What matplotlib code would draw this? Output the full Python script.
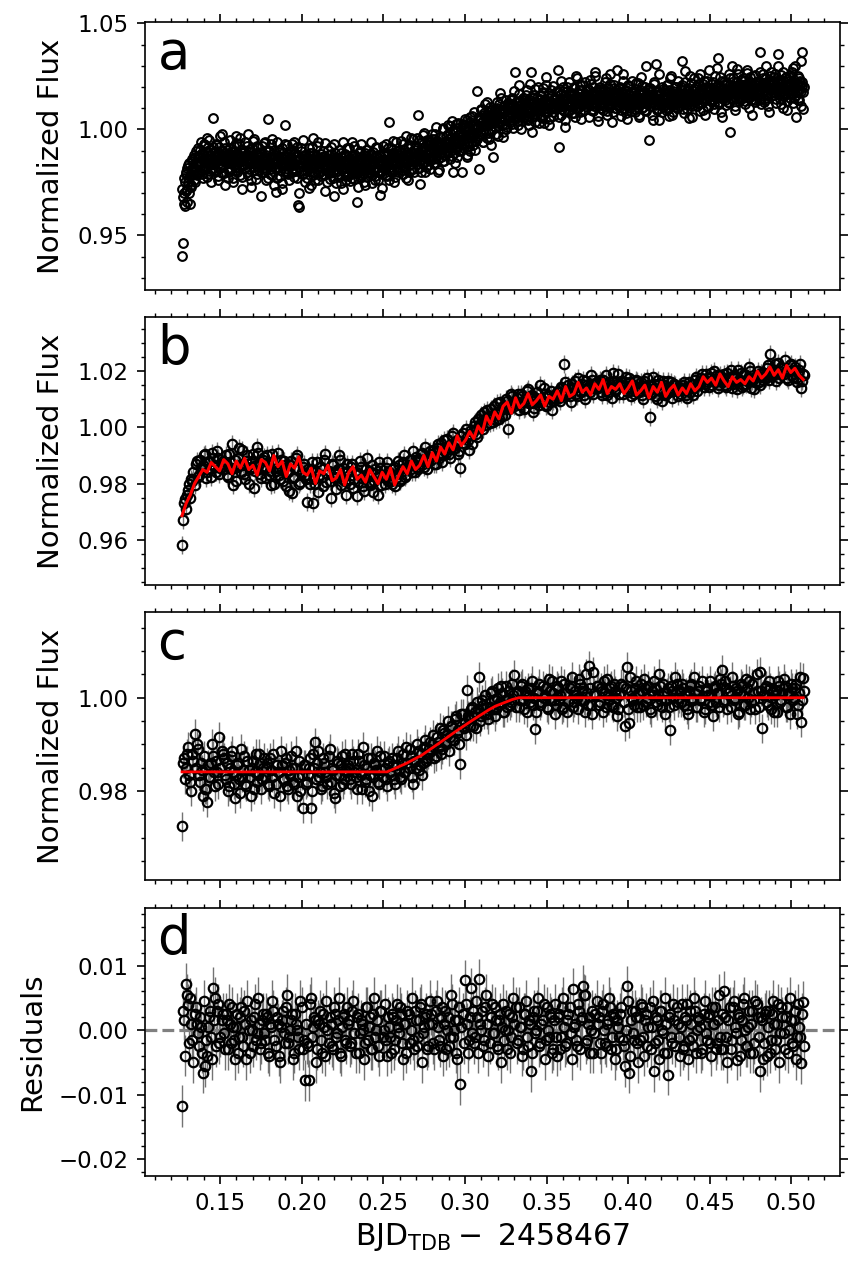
import numpy as np
import matplotlib
matplotlib.use('Agg')
import matplotlib.pyplot as plt
from matplotlib.ticker import MultipleLocator

# time range of the light curve (BJD_TDB - 2458467)
T_START = 0.1268
T_END = 0.5072

# all flux values below are (flux - 1) in units of 1e-4
# odd / even lists are interleaved exposures, half a cadence apart
# a: raw light curve
raw_a_odd = [
    -597, -535, -353, -300, -250, -200, -340, -280, -170, -230, -350, -190, -260, -150, -210, -120, -180, -250, -100, -160,
    -130, -90, -200, -160, -60, -170, -110, -230, -140, -75, -185, -150, -40, -210, -120, -165, -95, -250, -135, -180,
    56, -150, -100, -190, -70, -130, -220, -160, -85, -30, -175, -120, -205, -145, -60, -260, -110, -150, -95, -180,
    -125, -200, -50, -160, -100, -230, -140, -80, -175, -30, -190, -120, -155, -70, -215, -135, -95, -280, -150, -110,
    -170, -60, -120, -200, -140, -20, -185, -105, -155, -240, -90, -130, -175, -45, -160, -115, -210, -80, -145, -190,
    -110, -170, -312, -80, -150, -200, -125, -60, -190, -140, -230, 47, -100, -165, -130, -70, -215, -155, -95, -180,
    -135, -293, -60, -180, -150, -105, -220, -170, -90, -280, -140, -125, 19, -195, -160, -75, -210, -115, -170, -140,
    -130, -185, -70, -160, -225, -110, -150, -195, -85, -358, -367, -140, -175, -100, -210, -160, -50, -190, -135, -170,
    -120, -230, -165, -90, -195, -145, -260, -110, -175, -40, -205, -150, -125, -185, -80, -240, -160, -135, -200, -115,
    -175, -100, -215, -150, -65, -190, -135, -250, -170, -120, -205, -85, -180, -155, -230, -316, -140, -110, -195, -160,
    -145, -210, -95, -175, -255, -130, -185, -60, -200, -160, -115, -240, -170, -140, -220, -90, -190, -165, -125, -230,
    -150, -80, -205, -175, -130, -344, -190, -110, -160, -225, -70, -185, -145, -205, -120, -260, -165, -95, -180, -140,
    -200, -120, -165, -60, -215, -150, -105, -185, -240, -130, -175, -90, -195, -155, -307, -125, -170, -210, -80, -160,
    -140, -185, -70, -160, -220, -115, 33, -175, -135, -90, -200, -150, -250, -110, -165, -60, -190, -130, -175, -100,
    -120, -170, -55, -150, -210, -95, -140, -180, -30, -160, -115, -240, -130, -75, -185, -105, -150, -45, -200, -125,
    -90, -150, -40, 70, -125, -180, -256, -100, -60, -160, -115, -15, -200, -85, -135, -50, -170, -110, -75, -145,
    -60, -130, -20, -95, -165, -45, -110, 10, -80, -140, -65, -190, -35, -105, -70, -150, 0, -90, -120, -55,
    -30, -100, 20, -60, -140, -15, -75, 40, -55, -200, -110, -5, -85, -40, -130, 30, -65, -20, -95, -50,
    -200, 25, -45, -90, 10, -25, -130, 45, -60, -5, -100, 60, -35, 15, -75, -20, 80, -55, 5, -40,
    181, 10, -189, 55, -20, 90, 35, -60, 70, 0, 120, 25, -40, 80, 45, -15, 105, 30, -75, 60,
    -130, 40, 95, 10, 70, 130, 30, -30, 85, 55, 150, 20, 75, -10, 110, 45, 90, 0, 65, 125,
    60, 120, 35, 100, 150, 70, 5, 90, 271, 55, 130, 80, 20, 110, 165, 65, 95, 40, 140, 85,
    75, 130, 50, 115, 185, 90, 20, 140, 100, 270, 60, 125, 160, 85, 35, 110, 150, 70, 200, 95,
    90, 145, 60, 120, 175, 100, 30, 135, 210, 80, 115, 160, 50, 130, 95, 185, 110, 65, 140, 105,
    150, 95, 180, 110, 279, -82, 135, 70, 165, 120, 200, 85, 140, 45, 175, 115, 150, 90, 225, 130,
    110, 170, 75, 145, 200, 120, 60, 155, 240, 100, 135, 185, 80, 150, 115, 210, 130, 90, 165, 140,
    165, 105, 190, 130, 60, 150, 215, 120, 175, 85, 145, 250, 110, 160, 135, 40, 180, 125, 200, 145,
    120, 175, 90, 150, 225, 135, 70, 160, 195, 105, 140, 260, 115, 170, 80, 150, 210, 130, 100, 185,
    155, 110, 195, 140, 65, 170, 125, 230, 150, 95, 180, 135, 50, 160, 205, 120, 145, 85, 175, 130,
    115, 170, 140, 80, 190, 125, 220, 150, 60, 165, 130, 205, 100, 145, 175, 90, 155, 298, 120, 185,
    140, -51, 110, 180, 130, 70, 160, 215, 120, 307, 150, 95, 175, 135, 45, 165, 120, 200, 105, 150,
    125, 185, 90, 150, 210, 130, 65, 160, 240, 115, 145, 180, 80, 155, 125, 200, 140, 100, 170, 130,
    160, 110, 200, 322, 140, 75, 170, 225, 130, 155, 95, 185, 145, 250, 120, 165, 60, 150, 190, 135,
    145, 200, 110, 175, 240, 150, 85, 185, 160, 125, 215, 170, 70, 190, 140, 230, 155, 105, 180, 165,
    195, 130, 215, 160, 95, 185, 250, 150, 175, 336, 120, 200, 165, 80, 190, 230, 145, 210, 170, 115,
    165, 220, 130, 190, 260, -14, 175, 205, 145, 240, 180, 110, 200, 160, 285, 170, 135, 215, 190, 150,
    210, 150, 240, 180, 120, 200, 265, 165, 195, 100, 225, 175, 140, 205, 250, 160, 190, 130, 220, 185,
    170, 230, 145, 364, 200, 120, 215, 260, 180, 195, 140, 240, 165, 205, 110, 225, 185, 270, 155, 200,
    215, 160, 245, 190, 125, 230, 180, 353, 205, 145, 255, 175, 220, 100, 195, 240, 165, 210, 135, 230,
    180, 245, 150, 210, 270, 170, 125, 225, 195, 300, 160, 215, 140, 240, 185, 230, 110, 364, 205, 175,
]

raw_a_even = [
    -280, -320, -230, -360, -210, -290, -180, -250, -300, -160, -220, -270, -140, -200, -175, -240, -130, -190, -155, -215,
    -170, -125, -95, -190, -155, -210, -115, -145, -70, -175, -135, -225, -100, -160, -50, -140, -195, -120, -165, -85,
    -110, -165, -195, -130, -75, -150, -240, -120, -180, -100, -145, -20, -170, -125, -205, -90, -155, -135, -230, -115,
    -160, -90, -145, -185, -120, -250, -105, -170, -135, -65, -200, -150, -115, -180, -40, -130, -165, -225, -95, -145,
    -125, -180, -150, -80, -215, -135, -100, -165, -270, -120, -145, -55, -190, -160, -110, -235, -140, -85, -175, -130,
    -160, -105, -200, -135, -180, -65, -150, -240, -120, -170, -95, -155, -210, -130, -185, -45, -140, -115, -260, -165,
    -175, -120, -230, -145, -95, -190, -160, -135, -255, -110, -170, -140, -70, -205, -150, -125, -185, -240, -100, -160,
    -140, -200, -115, -170, -60, -185, -150, -230, -125, -165, -300, -135, -195, -90, -160, -210, -145, -120, -250, -175,
    -195, -135, -150, -275, -110, -180, -165, -85, -215, -140, -170, -240, -125, -155, -200, -60, -175, -145, -220, -130,
    -150, -210, -125, -180, -290, -140, -175, -95, -195, -160, -235, -115, -170, -145, -200, -70, -185, -130, -255, -165,
    -195, -140, -225, -160, -110, -185, -280, -150, -175, -200, -125, -165, -90, -210, -155, -245, -135, -180, -60, -190,
    -160, -235, -120, -185, -205, -145, -270, -175, -100, -195, -155, -215, -135, -180, -250, -110, -170, -225, -145, -190,
    -140, -205, -175, -115, -255, -160, -190, -130, -220, -85, -180, -150, -240, -165, -120, -200, -145, -275, -170, -110,
    -180, -125, -215, -150, -90, -170, -240, -140, -195, -110, -165, -55, -185, -130, -225, -150, -100, -200, -160, -135,
    -160, -105, -190, -130, -70, -175, -145, -230, -115, -155, -90, -200, -125, -165, -40, -140, -185, -110, -150, -95,
    -135, -80, -165, -105, -50, -145, -120, -200, -90, -130, -25, -155, -100, -175, -70, -115, -140, -60, -185, -95,
    -105, -45, -140, -75, -160, -20, -95, -120, -55, -200, -85, -35, -130, -70, -110, 5, -90, -150, -60, -100,
    -70, -20, -110, -45, 15, -85, -35, -125, -5, -60, -160, -40, 25, -90, -25, -55, -100, 10, -75, -30,
    -35, 20, -65, -5, 50, -40, -120, 10, -20, -80, 35, -10, -55, 65, -30, 5, -95, 25, -15, -45,
    5, 60, -30, 45, 95, 15, -60, 40, 75, 20, -15, 55, 130, 25, -45, 70, 35, 0, 90, 50,
    30, 85, 45, -20, 100, 65, 15, 120, 55, 170, 40, 80, -35, 95, 60, 25, 140, 70, 10, 105,
    110, 55, 140, 80, 25, 120, 95, 180, 65, 100, 40, 135, 85, 210, 70, 115, 0, 90, 150, 60,
    125, 70, 160, 95, 45, 135, 105, 215, 80, 120, -10, 150, 100, 65, 190, 115, 85, 140, 30, 110,
    90, 160, 130, 55, 195, 110, 140, 75, 245, 120, 95, 170, 20, 135, 105, 155, 80, 205, 125, 100,
    145, 100, 175, 120, 60, 160, 130, 230, 95, 140, 180, 110, 10, 150, 125, 200, 85, 135, 165, 115,
    110, 160, 140, 75, 195, 125, 250, 150, 95, 170, 135, 210, 50, 145, 185, 120, 160, 90, 225, 130,
    155, 120, 185, 135, 235, 90, 165, 145, 200, 110, 150, 270, 125, 175, 65, 140, 190, 115, 160, 100,
    130, 190, 110, 165, 140, 240, 85, 155, 175, 120, 215, 145, 35, 160, 130, 195, 100, 170, 150, 280,
    165, 115, 145, 200, 90, 175, 135, 260, 120, 155, 185, 75, 150, 210, 125, 165, 100, 140, 230, 130,
    120, 175, 95, 160, 220, 135, 150, 70, 185, 125, 245, 145, 105, 170, 130, 200, 85, 155, 140, 190,
    150, 110, 195, 130, 165, 45, 140, 225, 115, 160, 180, 90, 145, 260, 120, 170, 135, 80, 190, 125,
    115, 165, 140, 210, 95, 155, 185, 125, 250, 140, 70, 170, 150, 200, 120, 160, 105, 230, 145, 130,
    170, 125, 210, 150, 95, 185, 140, 275, 160, 120, 195, 55, 165, 135, 220, 150, 110, 180, 240, 145,
    135, 190, 155, 215, 120, 175, 260, 145, 185, 90, 170, 230, 150, 200, 165, 110, 195, 280, 140, 180,
    190, 145, 225, 165, 120, 200, 175, 290, 155, 210, 130, 185, 245, 160, 60, 195, 170, 225, 140, 180,
    160, 215, 185, 125, 240, 195, 170, 300, 150, 205, 180, 90, 225, 165, 195, 260, 145, 210, 175, 235,
    205, 160, 230, 190, 135, 215, 280, 175, 200, 150, 245, 185, 70, 220, 165, 195, 255, 140, 210, 180,
    165, 220, 190, 270, 145, 205, 175, 240, 130, 210, 185, 300, 160, 225, 80, 195, 250, 170, 215, 190,
    225, 175, 260, 145, 210, 190, 300, 165, 235, 200, 120, 220, 180, 270, 155, 205, 245, 185, 90, 215,
    200, 255, 165, 220, 185, 290, 150, 235, 195, 60, 215, 175, 250, 140, 210, 320, 180, 225, 95, 200,
]

# b: binned light curve
raw_b_odd = [
    -419, -270, -290, -223, -250, -190, -205, -120, -170, -150, -135, -95, -160, -120, -175, -110, -140, -85, -165, -130,
    -150, -100, -175, -125, -60, -145, -190, -110, -135, -80, -165, -120, -200, -140, -95, -155, -70, -130, -180, -115,
    -145, -100, -170, -205, -130, -155, -90, -185, -150, -120, -210, -160, -135, -235, -175, -110, -150, -195, -140, -170,
    -265, -180, -150, -270, -200, -125, -170, -140, -210, -95, -165, -190, -130, -175, -220, -150, -115, -185, -160, -240,
    -155, -200, -130, -185, -245, -165, -140, -210, -180, -110, -195, -160, -230, -150, -175, -125, -205, -170, -145, -190,
    -165, -200, -140, -180, -120, -190, -155, -100, -170, -135, -150, -85, -160, -120, -140, -95, -130, -70, -150, -105,
    -115, -80, -130, -60, -100, -125, -45, -90, -70, -110, -30, -75, -55, -95, -143, -20, -60, -35, -80, -10,
    -15, 20, -35, 10, 45, -5, 30, 60, 15, 40, 75, 25, 55, 90, 40, 70, 100, -7, 80, 110,
    75, 105, 60, 120, 90, 70, 130, 85, 110, 55, 95, 125, 80, 100, 140, 75, 115, 90, 60, 105,
    100, 130, 95, 140, 227, 115, 150, 90, 135, 165, 110, 145, 125, 170, 100, 150, 135, 185, 120, 155,
    140, 170, 115, 155, 185, 125, 145, 105, 165, 135, 190, 150, 120, 160, 140, 175, 110, 150, 130, 165,
    125, 160, 100, 145, 175, 38, 135, 155, 110, 170, 130, 95, 150, 120, 165, 140, 105, 155, 130, 145,
    120, 150, 135, 105, 160, 140, 115, 170, 130, 155, 175, 145, 190, 160, 180, 150, 200, 165, 140, 185,
    160, 190, 145, 175, 205, 155, 180, 135, 170, 195, 150, 185, 165, 215, 140, 175, 160, 200, 150, 180,
    195, 175, 220, 262, 185, 205, 165, 230, 190, 210, 238, 175, 200, 225, 180, 215, 160, 205, 140, 190,
]

raw_b_even = [
    -330, -255, -240, -200, -185, -160, -130, -175, -115, -145, -100, -180, -125, -150, -90, -135, -160, -110, -145, -120,
    -125, -170, -95, -150, -205, -115, -140, -75, -160, -130, -185, -100, -150, -120, -215, -135, -90, -165, -140, -105,
    -180, -125, -155, -95, -200, -145, -170, -115, -190, -135, -160, -225, -120, -180, -145, -100, -200, -160, -130, -185,
    -150, -200, -125, -185, -160, -230, -140, -175, -115, -195, -155, -250, -135, -180, -165, -100, -205, -145, -190, -130,
    -185, -140, -215, -160, -195, -120, -180, -225, -150, -170, -205, -135, -190, -165, -240, -145, -175, -200, -125, -160,
    -190, -150, -210, -165, -135, -185, -125, -175, -145, -115, -160, -130, -105, -150, -115, -90, -140, -110, -125, -85,
    -95, -130, -75, -110, -55, -100, -80, -40, -95, -60, -20, -75, -45, -85, -30, -55, -5, -45, -25, -60,
    5, -25, 30, 0, 25, 55, 10, 35, 65, 20, 50, 85, 30, 60, 75, 45, 95, 65, 120, 85,
    95, 120, 80, 110, 65, 100, 135, 85, 115, 70, 105, 90, 150, 95, 120, 80, 110, 130, 95, 115,
    125, 105, 145, 120, 160, 130, 110, 155, 140, 120, 175, 130, 155, 115, 165, 145, 125, 170, 140, 160,
    155, 125, 170, 140, 115, 160, 150, 195, 130, 155, 120, 165, 145, 180, 125, 160, 140, 120, 170, 145,
    140, 115, 165, 130, 150, 120, 180, 140, 100, 155, 135, 165, 115, 145, 125, 160, 130, 150, 110, 140,
    135, 160, 115, 145, 125, 155, 140, 180, 150, 165, 190, 155, 175, 145, 195, 170, 160, 185, 150, 175,
    175, 150, 195, 165, 140, 185, 160, 205, 170, 145, 190, 155, 175, 200, 165, 135, 185, 160, 195, 170,
    180, 210, 170, 200, 185, 225, 195, 175, 215, 190, 200, 170, 220, 185, 205, 175, 195, 225, 165, 185,
]

# b: systematics + GP model (red)
model_b = [
    -314, -270, -240, -200, -175, -150, -160, -125, -140, -155, -115, -130, -165, -120, -145,
    -110, -150, -135, -170, -115, -125, -155, -100, -140, -120, -175, -130, -145, -105, -160,
    -170, -145, -200, -155, -165, -135, -190, -180, -150, -205, -160, -140, -185, -170, -195,
    -150, -175, -200, -160, -185, -145, -205, -170, -140, -165, -120, -150, -135, -100, -140,
    -90, -120, -70, -95, -55, -80, -30, -65, -45, -15, -40, 5, -20, 40, 10,
    55, 30, 75, 90, 50, 105, 70, 85, 120, 80, 95, 115, 75, 110, 100,
    130, 95, 145, 110, 120, 160, 125, 140, 115, 155, 135, 170, 120, 145, 135,
    155, 120, 140, 165, 115, 130, 150, 105, 145, 125, 160, 110, 135, 150, 115,
    140, 120, 155, 130, 145, 180, 160, 175, 150, 190, 165, 145, 180, 160, 170,
    155, 180, 165, 200, 175, 190, 215, 185, 205, 175, 220, 195, 210, 185, 170,
]

# c: detrended light curve
raw_c_odd = [
    -276, -130, -150, -105, -180, -120, -77, -100, -165, -140, -210, -195, -223, -170, -140, -125, -190, -160, -85, -115,
    -130, -175, -200, -150, -115, -185, -165, -140, -205, -170, -125, -190, -155, -210, -135, -160, -180, -120, -195, -150,
    -170, -140, -190, -155, -120, -185, -160, -210, -145, -175, -130, -195, -165, -150, -185, -115, -170, -200, -236, -145,
    -180, -150, -236, -120, -96, -140, -170, -195, -130, -160, -185, -110, -150, -205, -165, -140, -190, -125, -175, -155,
    -145, -175, -120, -160, -195, -135, -165, -105, -180, -150, -200, -130, -170, -145, -115, -185, -155, -125, -175, -140,
    -160, -130, -175, -145, -115, -170, -140, -160, -105, -150, -125, -185, -135, -100, -155, -120, -140, -90, -130, -110,
    -115, -80, -125, -95, -65, -110, -75, -100, -50, -85, -60, -90, -40, -70, -142, -35, -55, 17, -45, -25,
    -60, -30, -10, 45, -40, -15, 5, -35, -20, 15, -5, -25, 20, -10, 10, -30, 25, 0, -15, 30,
    49, 10, -20, 25, -5, 15, -30, 5, 20, -15, -68, 10, 30, -10, 0, 20, -25, 15, 35, -5,
    -15, 20, 5, -25, 30, 10, -10, 25, -20, 15, 0, 40, -5, 20, -30, 10, 68, -15, 55, 5,
    25, -10, 15, 35, -20, 5, 20, -15, 30, 0, -25, 10, 25, -60, 66, -55, 15, -5, 20, -20,
    10, 30, -15, 20, 0, -25, 15, 35, -10, 5, 25, -20, 10, -5, 20, -70, 15, -15, 30, 0,
    -10, 20, 5, -25, 15, 30, -5, 10, -20, 25, 0, -30, 15, 5, 35, -15, 20, -10, 10, 40,
    60, -5, 20, 10, -20, 25, 0, 15, -30, 30, 5, -15, 20, 35, -10, 10, -25, 15, 55, -66,
    5, 25, -15, 20, 0, -30, 15, 35, -10, 10, 25, -20, 5, 30, -5, 20, -35, 10, -53, 43,
]

raw_c_even = [
    -140, -175, -120, -165, -200, -135, -150, -110, -180, -155, -125, -195, -145, -170, -100, -160, -135, -185, -150, -120,
    -165, -140, -190, -125, -160, -215, -145, -175, -110, -155, -185, -135, -170, -150, -195, -120, -165, -140, -175, -130,
    -150, -185, -130, -170, -205, -145, -160, -115, -175, -140, -190, -155, -125, -180, -150, -210, -135, -165, -145, -185,
    -165, -130, -200, -150, -175, -115, -160, -190, -140, -170, -125, -180, -155, -215, -135, -165, -145, -185, -120, -160,
    -150, -185, -135, -170, -120, -160, -195, -145, -175, -130, -165, -210, -140, -155, -180, -125, -170, -150, -190, -135,
    -165, -145, -185, -130, -155, -175, -120, -160, -140, -110, -170, -135, -150, -115, -145, -165, -105, -135, -120, -95,
    -100, -130, -85, -105, -120, -70, -95, -80, -115, -60, -90, -45, -75, -100, -35, -65, -80, -40, -60, -20,
    -40, -65, -25, -50, -5, -35, -20, -45, 10, -25, -40, 0, -15, 25, -30, -5, -20, 15, -10, 5,
    -20, 15, -5, 30, -25, 5, 20, -10, 35, 0, -30, 15, -15, 25, 5, -20, 40, -5, 10, -35,
    25, -5, 35, -20, 10, -30, 20, 45, -10, 5, -25, 30, 15, -5, 50, -15, 20, -35, 10, 25,
    -15, 20, -30, 10, 40, -5, 25, -20, 15, -40, 5, 30, -10, 20, -25, 45, 0, -15, 35, 10,
    -20, 15, 40, -10, 25, -30, 5, 20, -15, 50, -5, 30, -35, 10, -20, 25, 0, 45, -10, 15,
    30, -15, 10, -35, 25, 0, 45, -20, 15, -5, 35, -25, 20, -10, 5, -40, 25, 10, -20, 30,
    -10, 35, -25, 15, 45, -5, 20, -35, 10, 25, -15, 40, 0, -25, 30, -5, 50, -20, 15, 5,
    20, -10, 35, -25, 15, 5, -30, 25, -5, 40, -20, 10, -35, 20, 0, 30, -15, 45, -5, 15,
]

# c: eclipse model (red), knots
model_c_t = [0.1268, 0.2524, 0.2640, 0.2737, 0.2840, 0.2941, 0.3043, 0.3146, 0.3187, 0.3289, 0.3330, 0.5072]
model_c = [-159, -159, -141, -123, -98, -73, -49, -26, -18, -4, 0, 0]

# d: residuals
raw_d_odd = [
    -118, 16, 72, 39, 49, -15, 25, 10, -25, 5, -66, -56, -40, 20, -10, 66, 50, 30, -20, 15,
    -5, 25, -30, 10, 35, -15, 5, -35, 20, -10, 30, -45, 0, 15, -25, 40, -5, 10, -20, 25,
    -15, 20, -40, 5, 30, -25, 10, -50, 15, -5, 35, -20, 0, 25, -35, 10, -10, 45, -30, -78,
    -20, -78, 50, 5, 15, -30, 10, -15, 25, -40, 0, 20, -25, 35, -10, 15, -35, 5, 25, -20,
    10, -25, 30, -5, 20, -35, 15, 0, -20, 35, 5, -30, 25, -10, 15, -40, 30, 0, -15, 20,
    -10, 25, -30, 15, 5, 35, -20, 10, -35, 25, 0, -15, 30, -25, 15, 40, -5, 20, -30, 10,
    25, -20, 30, 5, -25, 35, 10, -30, 20, -10, 40, 0, -35, 15, -84, 25, 77, 10, -15, 65,
    30, -10, 20, 79, 0, -25, 35, 10, -20, 40, -5, 15, -30, 25, 5, -15, 30, 0, -35, 20,
    10, -20, 35, 5, -30, 25, -10, 15, -64, 20, -5, 30, -25, 10, 40, -15, 0, 25, -35, 15,
    -10, 20, -30, 35, 5, -20, 25, -5, 64, 10, -25, 30, 15, 69, 54, -15, 20, 0, -35, 25,
    10, -20, 30, 0, -25, 15, 35, -10, 20, -30, 5, 25, -15, -56, 68, -66, 15, -5, 30, -20,
    20, 40, -10, 15, -25, 35, 5, -64, 20, -15, 30, 0, -35, 10, -69, 25, -20, 15, 35, -10,
    5, -30, 20, 40, -15, 10, -25, 30, 0, 15, -35, 25, -5, 20, -20, 35, 10, -30, 15, -10,
    25, 60, -10, 15, -30, 35, 5, -46, 20, -15, 40, 0, -25, 30, 10, -35, 45, 20, -64, 15,
    -20, 30, 5, -35, 25, 10, -15, 40, -5, 20, -30, 35, 0, 15, -25, 30, -10, 5, -51, 44,
]

raw_d_even = [
    30, -40, 55, -20, 10, -50, 35, -5, 20, -35, 45, -15, 5, 30, -45, 15, -25, 40, -10, 25,
    -30, 15, 40, -20, 5, -45, 25, -10, 35, -25, 10, 45, -35, 0, 20, -15, 50, -30, 15, -5,
    25, -35, 10, 45, -15, 20, -40, 5, 30, -20, 55, -10, 15, -45, 25, 0, -30, 35, -15, 10,
    -25, 40, -10, 20, -50, 15, 30, -35, 5, 45, -20, 10, -30, 25, -5, 50, -40, 20, -15, 35,
    15, -20, 45, -35, 25, -5, 10, -45, 35, -15, 20, -30, 50, 0, -25, 30, -10, 40, -40, 5,
    -35, 20, -15, 40, -5, 25, -45, 10, 30, -20, 50, -30, 15, -10, 35, -50, 5, 25, -25, 45,
    10, -30, 45, -15, 20, -40, 30, 0, -25, 55, -10, 15, -45, 35, 5, -20, 40, -35, 20, -5,
    -20, 45, -35, 10, 30, -15, 55, -40, 20, -5, 35, -25, 15, -50, 40, 0, -30, 25, -10, 50,
    35, -15, 5, -40, 25, 45, -25, 10, -35, 30, 0, 50, -20, 15, -45, 35, -10, 20, -30, 40,
    -40, 25, -10, 50, -25, 15, 35, -45, 5, -15, 40, -30, 20, 55, -20, 10, -35, 30, -5, 45,
    20, -35, 40, -20, 10, 50, -30, 25, -45, 15, -10, 35, -25, 0, 45, -40, 30, -15, 20, -50,
    -15, 35, -40, 25, 5, -30, 45, -20, 15, -45, 30, -5, 50, -35, 20, -10, 40, -25, 10, -40,
    40, -25, 15, -45, 30, -10, 50, -35, 20, 5, -30, 45, -15, 25, -40, 10, 35, -20, 55, -30,
    -30, 20, -50, 35, -15, 45, -5, 25, -40, 15, 50, -25, 5, -35, 30, -20, 40, -10, 20, -45,
    25, -40, 30, -15, 45, -30, 10, -50, 35, -5, 20, -35, 50, -20, 15, -45, 40, -10, 25, -25,
]

FLUX_ERR = 0.0032
X_LABEL = r'BJD$_{\rm TDB}-$ 2458467'

plt.rcParams['font.family'] = 'DejaVu Sans'
plt.rcParams['mathtext.default'] = 'regular'


def to_flux(raw, offset=1.0):
    return offset + np.array(raw) * 1e-4


def interleaved_times(n_odd, n_even):
    t_odd = np.linspace(T_START, T_END, n_odd)
    half = (t_odd[1] - t_odd[0]) / 2
    t_even = np.linspace(T_START + half, T_END + half, n_even)
    return t_odd, t_even


fig = plt.figure(figsize=(8.65, 12.69), dpi=100)
L, W, H = 0.1676, 0.8035, 0.2113
ax_a = fig.add_axes([L, 0.7715, W, H])
ax_b = fig.add_axes([L, 0.5390, W, H])
ax_c = fig.add_axes([L, 0.3065, W, H])
ax_d = fig.add_axes([L, 0.0735, W, H])
axes = [ax_a, ax_b, ax_c, ax_d]


def draw_points(ax, t, y):
    ax.errorbar(t, y, yerr=FLUX_ERR, fmt='none', ecolor='0.45', elinewidth=1.0, zorder=1)
    ax.plot(t, y, 'o', ms=6.8, mfc='none', mec='k', mew=1.6, zorder=3)


# a
t1, t2 = interleaved_times(len(raw_a_odd), len(raw_a_even))
ax_a.plot(t1, to_flux(raw_a_odd), 'o', ms=6.3, mfc='none', mec='k', mew=1.5)
ax_a.plot(t2, to_flux(raw_a_even), 'o', ms=6.3, mfc='none', mec='k', mew=1.5)

# b
t1, t2 = interleaved_times(len(raw_b_odd), len(raw_b_even))
draw_points(ax_b, t1, to_flux(raw_b_odd))
draw_points(ax_b, t2, to_flux(raw_b_even))
ax_b.plot(np.linspace(T_START, T_END, len(model_b)), to_flux(model_b), color='red', lw=2.2, zorder=4)

# c
t1, t2 = interleaved_times(len(raw_c_odd), len(raw_c_even))
draw_points(ax_c, t1, to_flux(raw_c_odd))
draw_points(ax_c, t2, to_flux(raw_c_even))
ax_c.plot(model_c_t, to_flux(model_c), color='red', lw=2.0, zorder=4)

# d
t1, t2 = interleaved_times(len(raw_d_odd), len(raw_d_even))
draw_points(ax_d, t1, to_flux(raw_d_odd, 0.0))
draw_points(ax_d, t2, to_flux(raw_d_even, 0.0))
ax_d.axhline(0, color='gray', ls='--', lw=2.3, zorder=2)

ax_a.set_ylim(0.9243, 1.0507)
ax_b.set_ylim(0.9439, 1.0393)
ax_c.set_ylim(0.9609, 1.0184)
ax_d.set_ylim(-0.0226, 0.0190)

ax_a.yaxis.set_major_locator(MultipleLocator(0.05))
ax_a.yaxis.set_minor_locator(MultipleLocator(0.01))
ax_b.yaxis.set_major_locator(MultipleLocator(0.02))
ax_b.yaxis.set_minor_locator(MultipleLocator(0.005))
ax_c.yaxis.set_major_locator(MultipleLocator(0.02))
ax_c.yaxis.set_minor_locator(MultipleLocator(0.005))
ax_d.yaxis.set_major_locator(MultipleLocator(0.01))
ax_d.yaxis.set_minor_locator(MultipleLocator(0.002))

for ax, letter in zip(axes, 'abcd'):
    ax.set_xlim(0.1041, 0.5297)
    ax.xaxis.set_major_locator(MultipleLocator(0.05))
    ax.xaxis.set_minor_locator(MultipleLocator(0.01))
    ax.tick_params(which='both', direction='out', top=True, right=True, labelsize=16.5, pad=6)
    ax.tick_params(which='major', length=6, width=1.2)
    ax.tick_params(which='minor', length=3, width=1.0)
    for sp in ax.spines.values():
        sp.set_linewidth(1.2)
    ax.text(0.018, 0.826, letter, transform=ax.transAxes, fontsize=38, va='baseline')
    if ax is not ax_d:
        ax.tick_params(labelbottom=False)
        ax.set_ylabel('Normalized Flux', fontsize=21, labelpad=9)

ax_d.set_ylabel('Residuals', fontsize=21, labelpad=9)
ax_d.set_xlabel(X_LABEL, fontsize=21.5)

fig.savefig('out.png', dpi=100)
